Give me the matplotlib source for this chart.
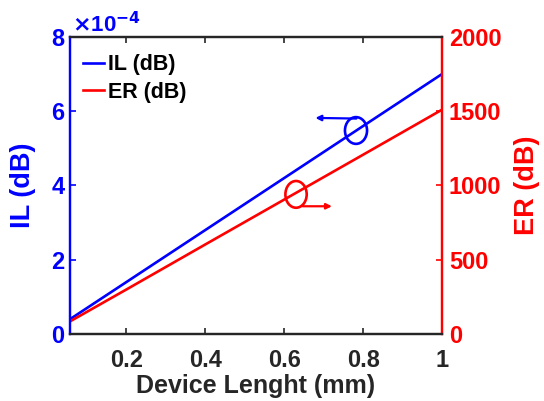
import numpy as np
import matplotlib.pyplot as plt
from matplotlib.patches import Ellipse

plt.rcParams['font.family'] = ['Liberation Sans', 'DejaVu Sans']
plt.rcParams['font.weight'] = 'bold'

# device length (mm), insertion loss (dB), extinction ratio (dB)
length = [0.057, 0.2, 0.4, 0.6, 0.8, 1.0]
il = [0.40e-4, 1.40e-4, 2.80e-4, 4.20e-4, 5.60e-4, 7.00e-4]
er = [85, 300, 603, 905, 1207, 1510]

x_ticks = [0.2, 0.4, 0.6, 0.8, 1]
x_ticklabels = ['0.2', '0.4', '0.6', '0.8', '1']
il_ticks = [0, 2e-4, 4e-4, 6e-4, 8e-4]
il_ticklabels = ['0', '2', '4', '6', '8']
er_ticks = [0, 500, 1000, 1500, 2000]

blue = '#0000ff'
red = '#ff0000'
dark = '#262626'

fig = plt.figure(figsize=(5.44, 4.01), dpi=100)
ax = fig.add_axes([0.1287, 0.167, 0.6838, 0.741])
ax2 = ax.twinx()

l1, = ax.plot(length, il, color=blue, lw=1.9, label='IL (dB)')
l2, = ax2.plot(length, er, color=red, lw=1.9, label='ER (dB)')

ax.set_xlim(0.057, 1)
ax.set_ylim(0, 8e-4)
ax2.set_ylim(0, 2000)

ax.set_xticks(x_ticks)
ax.set_xticklabels(x_ticklabels, fontsize=17, fontweight='bold', color=dark)
ax.set_yticks(il_ticks)
ax.set_yticklabels(il_ticklabels, fontsize=17, fontweight='bold', color=blue)
ax2.set_yticks(er_ticks)
ax2.set_yticklabels([str(v) for v in er_ticks], fontsize=17, fontweight='bold', color=red)

ax.tick_params(axis='x', direction='in', length=4, width=1.2, color=dark, top=True, pad=11)
ax.tick_params(axis='y', direction='in', length=4, width=1.2, color=blue, pad=4)
ax2.tick_params(axis='y', direction='in', length=4, width=1.2, color=red, pad=5)

for a in (ax, ax2):
    a.spines['top'].set_color(dark)
    a.spines['bottom'].set_color(dark)
    a.spines['left'].set_color(blue)
    a.spines['right'].set_color(red)
    for s in a.spines.values():
        s.set_linewidth(1.6)

ax.set_xlabel('Device Lenght (mm)', fontsize=18, fontweight='bold', color=dark, labelpad=1)
ax.set_ylabel('IL (dB)', fontsize=19.5, fontweight='bold', color=blue, labelpad=11)
ax2.set_ylabel('ER (dB)', fontsize=19.5, fontweight='bold', color=red, rotation=90, labelpad=9)

# exponent label for the left axis
ax.text(0.005, 1.0, r'$\times$10$^{\mathbf{-4}}$', transform=ax.transAxes,
        fontsize=16, fontweight='bold', color=blue, ha='left', va='bottom')

leg = ax.legend(handles=[l1, l2], loc='upper left', bbox_to_anchor=(-0.012, 1.0),
                frameon=False, fontsize=15.5, handlelength=1.0, handletextpad=0.15,
                labelspacing=0.3, borderaxespad=0.4)
for t in leg.get_texts():
    t.set_fontweight('bold')

# ellipse markers with arrows pointing to each axis
ax.add_patch(Ellipse((0.782, 5.48e-4), 0.056, 0.72e-4, fill=False, ec=blue, lw=1.9))
ax.annotate('', xy=(0.672, 5.82e-4), xytext=(0.79, 5.8e-4),
            arrowprops=dict(arrowstyle='-|>', color=blue, lw=1.6, mutation_scale=8))
ax2.add_patch(Ellipse((0.63, 940), 0.054, 180, fill=False, ec=red, lw=1.9))
ax2.annotate('', xy=(0.728, 860), xytext=(0.64, 860),
             arrowprops=dict(arrowstyle='-|>', color=red, lw=1.6, mutation_scale=8))

fig.savefig('out.png', dpi=100)
